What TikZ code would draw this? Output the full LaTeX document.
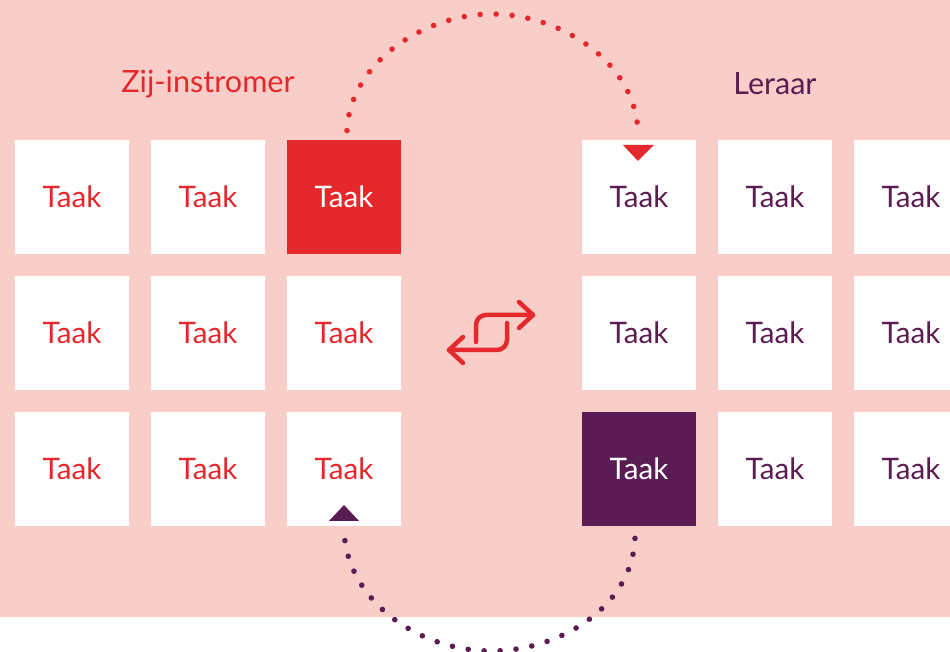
\documentclass[tikz,border=0pt]{standalone}
\usepackage{fontspec}
\setmainfont{Lato}
\definecolor{roze}{HTML}{F9CEC9}
\definecolor{rood}{HTML}{E5282B}
\definecolor{paars}{HTML}{5A1C52}
\tikzset{
  taak/.style={fill=white, minimum size=57pt, inner sep=0pt,
    font=\fontsize{14.8}{17}\selectfont},
  kop/.style={font=\fontsize{15.3}{18}\selectfont},
  stippel/.style={line width=2.8pt, line cap=round, dash pattern=on 0pt off 8pt},
  wissel/.style={rood, line width=2.25pt, line cap=round, line join=round}
}
\begin{document}
\begin{tikzpicture}[x=0.5pt,y=0.5pt]
    \useasboundingbox (0,0) rectangle (950,652);
    \clip (0,0) rectangle (950,652);
    \fill[roze] (0,35) rectangle (950,652);

    % zij-instromer
    \node[kop,text=rood] (zij) at (208,568) {Zij-instromer};
    \node[taak,text=rood] (z1) at (72,455) {Taak};
    \node[taak,text=rood] (z2) at (208,455) {Taak};
    \node[taak,fill=rood,text=white] (z3) at (344,455) {Taak};
    \node[taak,text=rood] (z4) at (72,319) {Taak};
    \node[taak,text=rood] (z5) at (208,319) {Taak};
    \node[taak,text=rood] (z6) at (344,319) {Taak};
    \node[taak,text=rood] (z7) at (72,183) {Taak};
    \node[taak,text=rood] (z8) at (208,183) {Taak};
    \node[taak,text=rood] (z9) at (344,183) {Taak};

    % leraar
    \node[kop,text=paars] (ler) at (775,568) {Leraar};
    \node[taak,text=paars] (l1) at (639,455) {Taak};
    \node[taak,text=paars] (l2) at (775,455) {Taak};
    \node[taak,text=paars] (l3) at (911,455) {Taak};
    \node[taak,text=paars] (l4) at (639,319) {Taak};
    \node[taak,text=paars] (l5) at (775,319) {Taak};
    \node[taak,text=paars] (l6) at (911,319) {Taak};
    \node[taak,fill=paars,text=white] (l7) at (639,183) {Taak};
    \node[taak,text=paars] (l8) at (775,183) {Taak};
    \node[taak,text=paars] (l9) at (911,183) {Taak};

    % boog boven
    \coordinate (bA) at ([xshift=1.5pt,yshift=4.5pt]z3.north);
    \coordinate (bB) at ([xshift=-0.5pt,yshift=3.5pt]l1.north);
    \draw[stippel,rood] (bA) .. controls (350,590) and (425,638) .. (492,638)
      .. controls (560,638) and (636,590) .. (bB);
    \fill[rood] (623,507) -- (654,507) -- (638,491) -- cycle;

    % boog onder
    \coordinate (oA) at ([xshift=-2pt,yshift=-6pt]l7.south);
    \coordinate (oB) at ([yshift=-2pt]z9.south);
    \draw[stippel,paars] (oA) .. controls (632,45) and (560,1) .. (491,1)
      .. controls (420,1) and (347,50) .. (oB);
    \fill[paars] (329,131) -- (359,131) -- (344,147) -- cycle;

    % wisselteken
    \draw[wissel,rounded corners=5pt] (476,310) -- (476,337) -- (533,337);
    \draw[wissel] (519,350) -- (533,337) -- (519,324);
    \draw[wissel,rounded corners=5pt] (507,329) -- (507,302) -- (449,302);
    \draw[wissel] (463,315) -- (449,302) -- (463,289);

  \end{tikzpicture}
\end{document}
